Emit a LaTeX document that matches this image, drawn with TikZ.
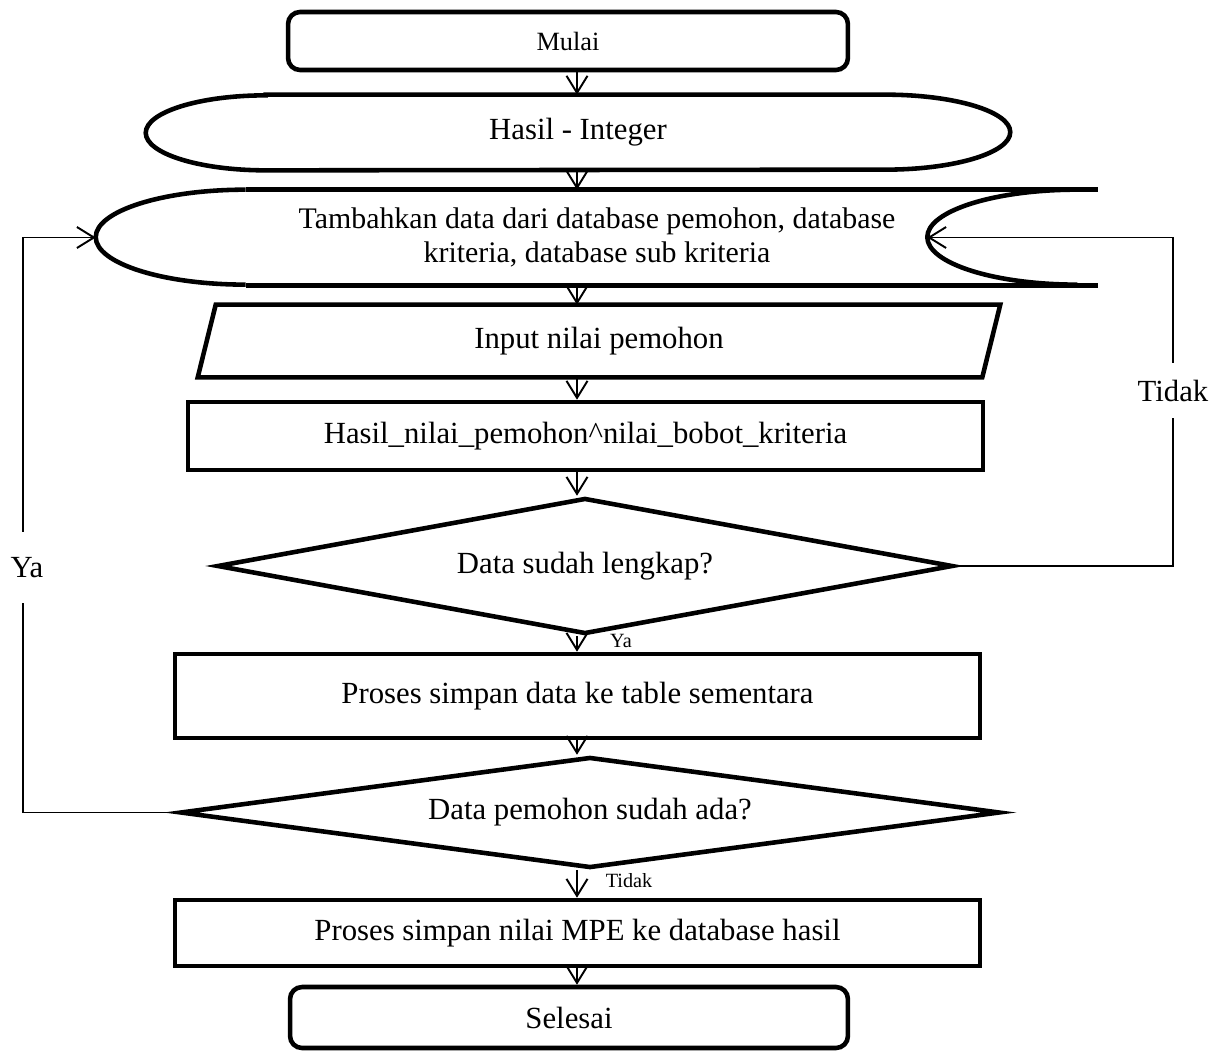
\documentclass[tikz,border=0pt]{standalone}
\usepackage{fontspec}
\setmainfont{Liberation Serif}
\usetikzlibrary{shapes.geometric,arrows.meta}

\tikzset{
  tebal/.style={line width=2.6pt},
  flow/.style={-{Straight Barb[length=0.34cm,width=0.42cm]}, line width=1.1pt},
  garis/.style={line width=1.1pt},
  teks/.style={font=\fontsize{17.5}{19}\selectfont},
  terminal/.style={draw, tebal, rectangle, rounded corners=0.24cm, font=\fontsize{15}{18}\selectfont},
  proses/.style={draw, tebal, rectangle, teks},
  keputusan/.style={draw, tebal, diamond, aspect=5.4, inner sep=0pt, teks},
  kecil/.style={font=\fontsize{11.5}{13}\selectfont, inner sep=1pt}
}

\begin{document}
\begin{tikzpicture}[x=0.02cm, y=0.02cm]
        \useasboundingbox (0,0) rectangle (1220,-1051);
        \coordinate (poros) at (577,0);
        \coordinate (kiri) at (23,0);
        \coordinate (kanan) at (1173,0);

        % Draw the terminals and process boxes
        \node[terminal, minimum width=11.2cm, minimum height=1.16cm] (mulai) at (568,-41) {Mulai};
        \node[teks, minimum width=17.28cm, minimum height=1.5cm] (hasil) at (578,-132.5) {Hasil - Integer};
        \node[teks, align=center, minimum width=20.04cm, minimum height=1.9cm, font=\fontsize{17}{19}\selectfont] (tambah) at (597,-237.5) {Tambahkan data dari database pemohon, database\\kriteria, database sub kriteria};
        \node[teks, minimum width=16.04cm, minimum height=1.44cm] (input) at (599,-341) {Input nilai pemohon};
        \node[proses, minimum width=15.9cm, minimum height=1.36cm] (hasilnilai) at (585.5,-436) {Hasil\_nilai\_pemohon\textasciicircum nilai\_bobot\_kriteria};
        \node[keputusan, minimum width=14.72cm, minimum height=2.72cm] (cek1) at (585,-566) {Data sudah lengkap?};
        \node[proses, minimum width=16.1cm, minimum height=1.68cm] (simpan) at (577.5,-696) {Proses simpan data ke table sementara};
        \node[keputusan, minimum width=16.4cm, minimum height=2.22cm] (cek2) at (590,-812.5) {Data pemohon sudah ada?};
        \node[proses, minimum width=16.1cm, minimum height=1.32cm] (simpanmpe) at (577.5,-933) {Proses simpan nilai MPE ke database hasil};
        \node[terminal, minimum width=11.16cm, minimum height=1.22cm, teks] (selesai) at (569,-1017.5) {Selesai};

        % Draw the rounded outlines
        \draw[tebal] ([xshift=2.4cm]hasil.north west) -- ([xshift=-2.5cm]hasil.north east)
            arc[start angle=90, end angle=-90, x radius=2.5cm, y radius=0.75cm]
            -- ([xshift=2.4cm]hasil.south west)
            arc[start angle=270, end angle=90, x radius=2.4cm, y radius=0.75cm] -- cycle;
        \draw[tebal] ([xshift=3cm]tambah.north west) -- (tambah.north east);
        \draw[tebal] ([xshift=3cm]tambah.south west) -- (tambah.south east);
        \draw[tebal] ([xshift=3cm]tambah.north west) arc[start angle=90, end angle=270, x radius=3cm, y radius=0.95cm];
        \draw[tebal] ([xshift=-0.42cm]tambah.north east) arc[start angle=90, end angle=270, x radius=3cm, y radius=0.95cm];
        \coordinate (tambahkanan) at ([xshift=-3.42cm]tambah.east);
        \draw[tebal] ([xshift=0.36cm]input.north west) -- (input.north east)
            -- ([xshift=-0.36cm]input.south east) -- (input.south west) -- cycle;

        % Draw the arrows
        \draw[flow] (mulai.south -| poros) -- (hasil.north -| poros);
        \draw[flow] (hasil.south -| poros) -- (tambah.north -| poros);
        \draw[flow] (tambah.south -| poros) -- (input.north -| poros);
        \draw[flow] (input.south -| poros) -- (hasilnilai.north -| poros);
        \draw[flow] (hasilnilai.south -| poros) -- (cek1.north -| poros);
        \draw[flow] (cek1.south -| poros) -- (simpan.north -| poros);
        \draw[flow] (simpan.south -| poros) -- (cek2.north -| poros);
        \draw[flow] (cek2.south -| poros) -- (simpanmpe.north -| poros);
        \draw[flow] (simpanmpe.south -| poros) -- (selesai.north -| poros);

        % Labels on the branches
        \node[kecil] (ya1) at (621,-641) {Ya};
        \node[kecil] (tidak1) at (629,-881) {Tidak};
        \node[teks, inner sep=0pt, minimum height=1.1cm] (tidak) at (1173,-390.5) {Tidak};
        \node[teks, inner sep=0pt, minimum height=1.42cm] (ya) at (27,-567.5) {Ya};

        % Draw the loops back
        \draw[garis] (cek1.east) -| (kanan |- tidak.south);
        \draw[flow] (kanan |- tidak.north) |- (tambahkanan);
        \draw[garis] (cek2.west) -| (kiri |- ya.south);
        \draw[flow] (kiri |- ya.north) |- (tambah.west);

    \end{tikzpicture}
\end{document}
